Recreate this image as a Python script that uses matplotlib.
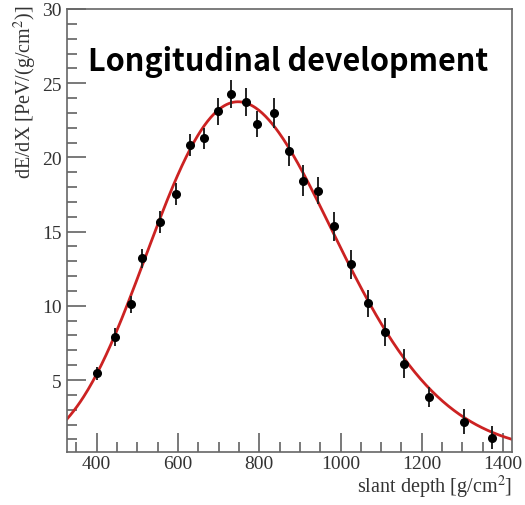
import numpy as np
import matplotlib
matplotlib.use("Agg")
import matplotlib.pyplot as plt
from matplotlib.ticker import MultipleLocator

# measured points (slant depth, energy deposit, error)
depth = [402, 445, 484, 511, 556, 595, 630, 663, 698, 731, 767, 794,
         837, 873, 907, 944, 984, 1026, 1068, 1110, 1157, 1218, 1303, 1372]
dedx = [5.44, 7.90, 10.09, 13.19, 15.66, 17.53, 20.83, 21.28, 23.10, 24.25, 23.71, 22.25,
        22.97, 20.45, 18.42, 17.75, 15.35, 12.81, 10.16, 8.26, 6.11, 3.84, 2.20, 1.12]
err = [0.45, 0.60, 0.55, 0.67, 0.73, 0.73, 0.76, 0.70, 0.92, 0.95, 0.95, 0.90,
       1.00, 1.00, 1.05, 0.90, 0.95, 0.98, 0.92, 0.95, 0.95, 0.67, 0.85, 0.80]

# Gaisser-Hillas fit parameters (red curve)
gh_nmax = 23.75
gh_xmax = 748.0
gh_x0 = -380.0
gh_lambda = 46.0

x_ticks = [400, 600, 800, 1000, 1200, 1400]
y_ticks = [5, 10, 15, 20, 25, 30]

plt.rcParams['font.family'] = ['Liberation Serif', 'DejaVu Serif']
plt.rcParams['mathtext.fontset'] = 'stix'
fig = plt.figure(figsize=(5.25, 5.06), dpi=100)
ax = fig.add_axes([67/525, 1-453/506, 445/525, 443/506])

xs = np.linspace(327, 1422, 400)
ys = gh_nmax * ((xs - gh_x0) / (gh_xmax - gh_x0)) ** ((gh_xmax - gh_x0) / gh_lambda) \
    * np.exp((gh_xmax - xs) / gh_lambda)
ax.plot(xs, ys, color='#cc2222', lw=2, zorder=2)
ax.errorbar(depth, dedx, yerr=err, fmt='o', color='black', ms=5.5, elinewidth=1.4,
            ecolor='#222222', capsize=0, zorder=3)

ax.set_xlim(327, 1422); ax.set_ylim(0.15, 30)
ax.set_xticks(x_ticks); ax.set_yticks(y_ticks)
ax.xaxis.set_minor_locator(MultipleLocator(50))
ax.yaxis.set_minor_locator(MultipleLocator(1))
ax.tick_params(which='both', direction='in', top=False, right=False, color='#555555',
               labelcolor='#333333', labelsize=14, width=1.1)
ax.tick_params(which='major', length=14)
ax.tick_params(which='minor', length=7)
ax.tick_params(axis='y', pad=4)
ax.tick_params(axis='x', pad=2)
for s in ax.spines.values():
    s.set_color('#666666'); s.set_linewidth(1.2)

fig.text(88/525, 1-62/506, "Longitudinal development",
         family=['Noto Sans CJK KR', 'DejaVu Sans'],
         fontweight='bold', fontsize=22, ha='left', va='center', color='black')
fig.text(25/525, 1-5/506, r"dE/dX [PeV/(g/cm$^2$)]", rotation=90, ha='center', va='top',
         fontsize=14.5, color='#333333')
fig.text(512/525, 1-493/506, r"slant depth [g/cm$^2$]", ha='right', va='baseline',
         fontsize=14.5, color='#333333')
fig.savefig("out.png")
